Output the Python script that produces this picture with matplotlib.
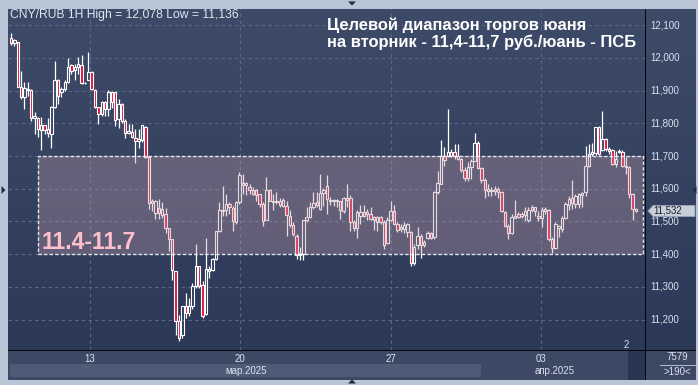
import matplotlib
matplotlib.use("Agg")
import matplotlib.pyplot as plt
import numpy as np
from matplotlib.patches import Rectangle, Polygon
from matplotlib.transforms import blended_transform_factory

plt.rcParams['font.family'] = ['Liberation Sans', 'DejaVu Sans']

# ---- data (hourly CNY/RUB candles) ----
opens = [12.061, 12.046, 12.048, 11.912, 11.880, 11.905, 11.902, 11.816, 11.816, 11.781,
         11.795, 11.783, 11.767, 11.849, 11.931, 11.895, 11.905, 11.926, 11.977, 11.963,
         11.971, 11.977, 11.923, 11.933, 11.956, 11.902, 11.849, 11.829, 11.866, 11.844,
         11.895, 11.895, 11.812, 11.860, 11.807, 11.769, 11.774, 11.756, 11.746, 11.748,
         11.789, 11.698, 11.557, 11.527, 11.540, 11.537, 11.524, 11.481, 11.445, 11.348,
         11.197, 11.152, 11.241, 11.220, 11.241, 11.302, 11.363, 11.307, 11.218, 11.350,
         11.353, 11.386, 11.472, 11.532, 11.534, 11.552, 11.542, 11.498, 11.559, 11.617,
         11.610, 11.605, 11.597, 11.597, 11.585, 11.554, 11.503, 11.597, 11.559, 11.559,
         11.562, 11.546, 11.546, 11.518, 11.488, 11.457, 11.396, 11.401, 11.503, 11.513,
         11.544, 11.559, 11.539, 11.587, 11.607, 11.564, 11.564, 11.564, 11.561, 11.532,
         11.566, 11.571, 11.498, 11.481, 11.518, 11.529, 11.523, 11.523, 11.513, 11.498,
         11.513, 11.498, 11.434, 11.503, 11.531, 11.493, 11.478, 11.478, 11.467, 11.467,
         11.372, 11.427, 11.457, 11.427, 11.449, 11.466, 11.451, 11.589, 11.616, 11.701,
         11.701, 11.701, 11.711, 11.691, 11.691, 11.657, 11.633, 11.665, 11.686, 11.739,
         11.663, 11.627, 11.594, 11.594, 11.594, 11.599, 11.589, 11.528, 11.487, 11.466,
         11.512, 11.522, 11.517, 11.520, 11.505, 11.545, 11.533, 11.517, 11.510, 11.533,
         11.535, 11.446, 11.420, 11.480, 11.477, 11.512, 11.551, 11.573, 11.553, 11.553,
         11.582, 11.589, 11.670, 11.706, 11.708, 11.790, 11.718, 11.752, 11.716, 11.718,
         11.676, 11.711, 11.713, 11.670, 11.665, 11.584, 11.538]
highs = [12.075, 12.058, 12.050, 11.961, 11.926, 11.926, 11.905, 11.834, 11.820, 11.820,
         11.795, 11.816, 11.854, 11.992, 11.936, 11.910, 11.931, 12.000, 11.982, 11.982,
         12.002, 12.010, 11.925, 12.017, 11.961, 11.905, 11.851, 11.867, 11.869, 11.902,
         11.900, 11.897, 11.875, 11.862, 11.812, 11.797, 11.797, 11.782, 11.782, 11.795,
         11.792, 11.700, 11.570, 11.567, 11.570, 11.560, 11.540, 11.481, 11.445, 11.348,
         11.213, 11.241, 11.282, 11.266, 11.312, 11.430, 11.363, 11.317, 11.450, 11.363,
         11.389, 11.472, 11.559, 11.607, 11.585, 11.559, 11.546, 11.562, 11.651, 11.644,
         11.620, 11.613, 11.605, 11.600, 11.585, 11.559, 11.636, 11.600, 11.585, 11.590,
         11.572, 11.572, 11.564, 11.534, 11.498, 11.462, 11.421, 11.505, 11.544, 11.559,
         11.590, 11.590, 11.646, 11.603, 11.641, 11.574, 11.569, 11.569, 11.564, 11.574,
         11.613, 11.580, 11.503, 11.534, 11.549, 11.549, 11.539, 11.544, 11.518, 11.518,
         11.518, 11.503, 11.513, 11.564, 11.549, 11.498, 11.491, 11.498, 11.495, 11.472,
         11.432, 11.483, 11.462, 11.444, 11.471, 11.468, 11.594, 11.655, 11.749, 11.727,
         11.844, 11.721, 11.737, 11.737, 11.694, 11.665, 11.681, 11.691, 11.770, 11.747,
         11.667, 11.633, 11.614, 11.606, 11.609, 11.604, 11.594, 11.533, 11.492, 11.522,
         11.566, 11.528, 11.528, 11.543, 11.545, 11.550, 11.545, 11.533, 11.543, 11.543,
         11.538, 11.451, 11.497, 11.490, 11.517, 11.558, 11.579, 11.628, 11.584, 11.586,
         11.589, 11.732, 11.737, 11.739, 11.790, 11.793, 11.839, 11.755, 11.727, 11.721,
         11.716, 11.721, 11.718, 11.696, 11.670, 11.586, 11.540]
lows = [12.038, 12.035, 11.910, 11.874, 11.844, 11.885, 11.808, 11.767, 11.759, 11.718,
        11.767, 11.757, 11.724, 11.847, 11.859, 11.880, 11.900, 11.922, 11.951, 11.933,
        11.951, 11.920, 11.920, 11.931, 11.902, 11.847, 11.798, 11.823, 11.823, 11.823,
        11.847, 11.792, 11.785, 11.800, 11.756, 11.766, 11.754, 11.680, 11.726, 11.744,
        11.695, 11.537, 11.532, 11.506, 11.506, 11.511, 11.465, 11.411, 11.322, 11.154,
        11.136, 11.144, 11.205, 11.210, 11.231, 11.297, 11.297, 11.205, 11.215, 11.328,
        11.348, 11.381, 11.467, 11.518, 11.518, 11.523, 11.472, 11.493, 11.554, 11.585,
        11.580, 11.585, 11.580, 11.564, 11.544, 11.485, 11.503, 11.562, 11.534, 11.554,
        11.544, 11.544, 11.454, 11.483, 11.457, 11.386, 11.381, 11.381, 11.498, 11.511,
        11.539, 11.544, 11.534, 11.546, 11.523, 11.549, 11.546, 11.544, 11.508, 11.526,
        11.544, 11.472, 11.470, 11.450, 11.493, 11.513, 11.503, 11.505, 11.474, 11.472,
        11.493, 11.416, 11.432, 11.501, 11.488, 11.467, 11.467, 11.464, 11.452, 11.365,
        11.368, 11.416, 11.389, 11.421, 11.446, 11.446, 11.446, 11.584, 11.614, 11.670,
        11.698, 11.696, 11.691, 11.688, 11.650, 11.624, 11.624, 11.630, 11.684, 11.660,
        11.619, 11.573, 11.579, 11.579, 11.582, 11.573, 11.528, 11.482, 11.446, 11.461,
        11.510, 11.512, 11.512, 11.502, 11.497, 11.530, 11.517, 11.502, 11.482, 11.522,
        11.441, 11.405, 11.415, 11.451, 11.469, 11.507, 11.535, 11.538, 11.541, 11.541,
        11.545, 11.579, 11.667, 11.701, 11.704, 11.704, 11.716, 11.716, 11.706, 11.673,
        11.667, 11.708, 11.667, 11.645, 11.571, 11.504, 11.530]
closes = [12.046, 12.056, 11.912, 11.880, 11.908, 11.902, 11.816, 11.823, 11.783, 11.795,
          11.780, 11.769, 11.849, 11.931, 11.885, 11.905, 11.926, 11.973, 11.961, 11.973,
          11.982, 11.923, 11.924, 11.956, 11.905, 11.849, 11.827, 11.864, 11.844, 11.895,
          11.864, 11.811, 11.860, 11.808, 11.771, 11.776, 11.758, 11.746, 11.751, 11.795,
          11.698, 11.557, 11.562, 11.562, 11.527, 11.521, 11.481, 11.445, 11.353, 11.197,
          11.144, 11.241, 11.220, 11.241, 11.302, 11.363, 11.302, 11.210, 11.356, 11.356,
          11.384, 11.472, 11.534, 11.536, 11.552, 11.544, 11.501, 11.559, 11.641, 11.610,
          11.617, 11.597, 11.583, 11.580, 11.554, 11.501, 11.597, 11.564, 11.564, 11.564,
          11.549, 11.566, 11.521, 11.488, 11.462, 11.396, 11.403, 11.503, 11.515, 11.544,
          11.556, 11.549, 11.587, 11.597, 11.569, 11.567, 11.567, 11.567, 11.534, 11.571,
          11.571, 11.498, 11.481, 11.529, 11.529, 11.518, 11.529, 11.508, 11.503, 11.513,
          11.498, 11.427, 11.503, 11.532, 11.493, 11.474, 11.483, 11.488, 11.491, 11.372,
          11.423, 11.457, 11.427, 11.437, 11.466, 11.449, 11.589, 11.619, 11.701, 11.688,
          11.711, 11.711, 11.701, 11.701, 11.657, 11.633, 11.665, 11.686, 11.739, 11.663,
          11.627, 11.596, 11.599, 11.596, 11.599, 11.589, 11.533, 11.487, 11.466, 11.514,
          11.517, 11.514, 11.522, 11.533, 11.535, 11.535, 11.543, 11.512, 11.535, 11.538,
          11.446, 11.420, 11.492, 11.487, 11.512, 11.553, 11.568, 11.555, 11.579, 11.584,
          11.586, 11.670, 11.706, 11.711, 11.790, 11.706, 11.752, 11.721, 11.721, 11.676,
          11.691, 11.716, 11.670, 11.665, 11.584, 11.538, 11.532]

price_ticks = [11.2, 11.3, 11.4, 11.5, 11.6, 11.7, 11.8, 11.9, 12.0, 12.1]
day_labels = ["13", "20", "27", "03"]
day_pos = [23.5, 68.2, 113.1, 157.7]          # bar index of each day label
month_labels = ["мар.2025", "апр.2025"]
month_span = [(-0.3, 140.0), (140.0, 183.6)]  # bar index spans
range_low, range_high = 11.4, 11.7
range_start = 8.0
last_price = closes[-1]

title = "Целевой диапазон торгов юаня\nна вторник - 11,4-11,7 руб./юань - ПСБ"
header = "CNY/RUB 1H High = 12,078 Low = 11,136"


def ru(p):
    return f"{p:.3f}".replace(".", ",")


# ---- layout ----
W, H = 698, 385
fig = plt.figure(figsize=(W / 100, H / 100), dpi=100)
fig.patch.set_facecolor('#b8c5d6')

def fx(px): return px / W
def fy(py): return 1 - py / H

XL = (-0.9, 188.7)
YL = (11.107, 12.1495)

ax = fig.add_axes([fx(8), fy(350), fx(637), 341 / H])
ax_r = fig.add_axes([fx(645), fy(350), fx(51), 341 / H])
ax_b = fig.add_axes([fx(8), fy(380), fx(637), 30 / H])
ax_c = fig.add_axes([fx(645), fy(380), fx(51), 30 / H])

top_c = np.array([62, 75, 104]) / 255
bot_c = np.array([44, 56, 88]) / 255
grad = np.linspace(0, 1, 256)[:, None]
img = top_c[None, None, :] * (1 - grad[..., None]) + bot_c[None, None, :] * grad[..., None]
img = np.repeat(img, 2, axis=1)

for a in (ax, ax_r):
    a.imshow(img, extent=[0, 1, 0, 1], transform=a.transAxes, aspect='auto', zorder=0)
    a.set_ylim(*YL)
    a.set_xticks([]); a.set_yticks([])
    for s in a.spines.values():
        s.set_visible(False)

ax.set_xlim(*XL)
ax_r.set_xlim(0, 1)

# grid
grid_c = '#5a6887'
for p in price_ticks:
    ax.axhline(p, color=grid_c, lw=0.8, ls=(0, (3, 3)), zorder=1)
for d in day_pos:
    ax.axvline(d, color=grid_c, lw=0.8, ls=(0, (3, 3)), zorder=1)

# candles
x = np.arange(len(closes))
bw = 0.72
red = '#e0123c'
for i in range(len(closes)):
    o, h, l, c = opens[i], highs[i], lows[i], closes[i]
    lo_b, hi_b = min(o, c), max(o, c)
    ax.vlines(x[i], hi_b, h, color='white', lw=0.9, zorder=3)
    ax.vlines(x[i], l, lo_b, color='white', lw=0.9, zorder=3)
    body_h = max(hi_b - lo_b, 0.0012)
    fc = red if c < o else 'none'
    ax.add_patch(Rectangle((x[i] - bw / 2, lo_b), bw, body_h, facecolor=fc,
                           edgecolor='white', lw=0.8, zorder=4))

# target range box
ax.add_patch(Rectangle((range_start, range_low), XL[1] - 0.6 - range_start, range_high - range_low,
                       facecolor=(0.74, 0.60, 0.66, 0.36), edgecolor='none', zorder=5))
ax.add_patch(Rectangle((range_start, range_low), XL[1] - 0.6 - range_start, range_high - range_low,
                       facecolor='none', edgecolor=(1, 1, 1, 0.85), lw=1.0,
                       ls=(0, (2.5, 1.5)), zorder=6))
ax.text(range_start + 1.0, 11.437, "11.4-11.7", color='#ffc0cc', fontsize=16.5,
        fontweight='bold', va='center', ha='left', zorder=7)

# right price axis
ax_r.axvline(0, color='black', lw=1.3, zorder=5)
tr = blended_transform_factory(ax_r.transAxes, ax_r.transData)
for p in price_ticks:
    ax_r.text(0.1, p, ru(p), transform=tr, color='#d9e2f0', fontsize=7,
              va='center', ha='left', zorder=3)
# last price marker
ax_r.add_patch(Polygon([[0.06, last_price], [0.16, last_price + 0.017], [0.98, last_price + 0.017],
                        [0.98, last_price - 0.017], [0.16, last_price - 0.017]],
                       closed=True, transform=tr, facecolor='#c9cfda', edgecolor='#9aa4b5',
                       lw=0.6, zorder=4))
ax_r.text(0.17, last_price, ru(last_price), transform=tr, color='#1a1f2e',
          fontsize=7, va='center', ha='left', zorder=5)

# bottom date axis
ax_b.set_xlim(*XL); ax_b.set_ylim(0, 30)
ax_b.set_facecolor('#3c4864')
ax_b.set_xticks([]); ax_b.set_yticks([])
for s in ax_b.spines.values():
    s.set_visible(False)
ax_b.axhline(30, color='black', lw=1.3)
ax_b.add_patch(Rectangle((month_span[0][0], 3), month_span[0][1] - month_span[0][0], 13,
                         facecolor='#4e5b77', edgecolor='none'))
ax_b.add_patch(Rectangle((month_span[1][1], 0), XL[1] - month_span[1][1], 30,
                         facecolor='#2a3552', edgecolor='none'))
for d, lab in zip(day_pos, day_labels):
    ax_b.text(d, 21.5, lab, color='#dbe3f0', fontsize=7, ha='center', va='center')
for (a0, a1), lab in zip(month_span, month_labels):
    ax_b.text((a0 + a1) / 2, 9.5, lab, color='#dbe3f0', fontsize=7, ha='center', va='center')

# bottom right corner
ax_c.set_xlim(0, 1); ax_c.set_ylim(0, 30)
ax_c.set_facecolor('#3c4864')
ax_c.set_xticks([]); ax_c.set_yticks([])
for s in ax_c.spines.values():
    s.set_visible(False)
ax_c.axhline(30, color='black', lw=1.3)
ax_c.axvline(0, color='black', lw=1.3)
ax_c.plot([0.3, 0.98], [15.5, 15.5], color='#c9d2e0', lw=0.6)
ax_c.text(0.64, 22.5, "7579", color='#dbe3f0', fontsize=7, ha='center', va='center')
ax_c.text(0.64, 8, ">190<", color='#dbe3f0', fontsize=7, ha='center', va='center')

# texts
fig.text(fx(10), fy(15), header, color='#dfe6f1', fontsize=8.7, ha='left', va='center')
fig.text(fx(327), fy(17.5), title, color='white', fontsize=11.9, fontweight='bold',
         ha='left', va='top', linespacing=1.12)
fig.text(fx(626), fy(345), "2", color='#dbe3f0', fontsize=7, ha='center', va='center')

# frame triangles
def tri(cx, cy, d):
    s = 4
    if d == 'down':
        pts = [[cx - s, cy - s / 2], [cx + s, cy - s / 2], [cx, cy + s / 2]]
    elif d == 'up':
        pts = [[cx - s, cy + s / 2], [cx + s, cy + s / 2], [cx, cy - s / 2]]
    elif d == 'right':
        pts = [[cx - s / 2, cy - s], [cx - s / 2, cy + s], [cx + s / 2, cy]]
    else:
        pts = [[cx + s / 2, cy - s], [cx + s / 2, cy + s], [cx - s / 2, cy]]
    fig.patches.append(Polygon([[fx(a), fy(b)] for a, b in pts], closed=True,
                               transform=fig.transFigure, facecolor='#1f2a44',
                               edgecolor='none', figure=fig))

tri(352, 3.5, 'down')
tri(352, 381.5, 'up')
tri(3.5, 190, 'right')
tri(694.5, 190, 'left')

fig.savefig('out.png', dpi=100, facecolor=fig.get_facecolor())
